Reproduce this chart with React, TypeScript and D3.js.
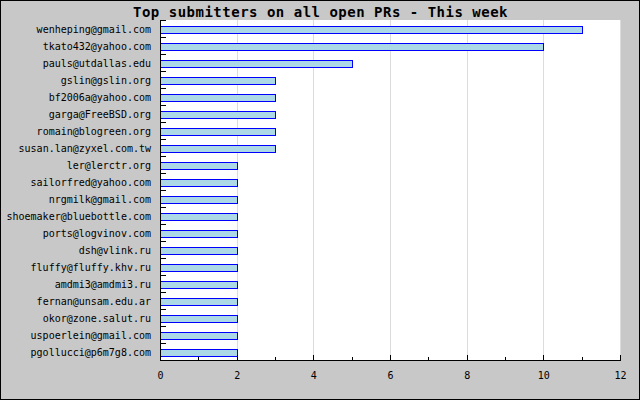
import React from "react";
import * as d3 from "d3";

const submitters: string[] = [
  "wenheping@gmail.com",
  "tkato432@yahoo.com",
  "pauls@utdallas.edu",
  "gslin@gslin.org",
  "bf2006a@yahoo.com",
  "garga@FreeBSD.org",
  "romain@blogreen.org",
  "susan.lan@zyxel.com.tw",
  "ler@lerctr.org",
  "sailorfred@yahoo.com",
  "nrgmilk@gmail.com",
  "shoemaker@bluebottle.com",
  "ports@logvinov.com",
  "dsh@vlink.ru",
  "fluffy@fluffy.khv.ru",
  "amdmi3@amdmi3.ru",
  "fernan@unsam.edu.ar",
  "okor@zone.salut.ru",
  "uspoerlein@gmail.com",
  "pgollucci@p6m7g8.com",
];
const prCounts: number[] = [11, 10, 5, 3, 3, 3, 3, 3, 2, 2, 2, 2, 2, 2, 2, 2, 2, 2, 2, 2];
const majorTicks: number[] = [0, 2, 4, 6, 8, 10, 12];
const minorTicks: number[] = [1, 3, 5, 7, 9, 11];
const title = "Top submitters on all open PRs - This week";

const W = 640;
const H = 400;
const left = 160;
const right = 620;
const top = 20;
const bottom = 360;
const mono = "'DejaVu Sans Mono', 'Liberation Mono', monospace";

export default function App() {
  const x = d3.scaleLinear().domain([0, 12]).range([left, right]);
  const y = d3.scaleBand<string>().domain(submitters).range([top, bottom]).padding(0);
  const step = y.step();
  const barH = 7;
  const barOff = 6;
  const boundaries = d3.range(submitters.length + 1).map((i) => top + i * step);
  const px = (v: number) => Math.round(x(v)) + 0.5;

  return (
    <svg
      width={W}
      height={H}
      style={{ position: "absolute", left: 0, top: 0, display: "block" }}
    >
      <rect x={0} y={0} width={W} height={H} fill="#c8c8c8" />
      <rect x={0.5} y={0.5} width={W - 1} height={H - 1} fill="none" stroke="#000" />
      <rect x={left} y={top} width={right - left} height={bottom - top} fill="#fff" />
      {majorTicks.slice(1).map((t) => (
        <line key={"g" + t} x1={px(t)} x2={px(t)} y1={top} y2={bottom} stroke="#dcdcdc" />
      ))}
      {submitters.map((s, i) => (
        <rect
          key={"b" + s}
          x={left + 0.5}
          y={Math.round((y(s) as number) + barOff) + 0.5}
          width={Math.round(x(prCounts[i])) - left}
          height={barH}
          fill="#add8e6"
          stroke="#0000ff"
        />
      ))}
      {/* y axis */}
      <line x1={left + 0.5} x2={left + 0.5} y1={top} y2={bottom + 1} stroke="#000" />
      {boundaries.map((b, i) => (
        <line
          key={"yt" + i}
          x1={left}
          x2={left + 6}
          y1={Math.round(b) + 0.5}
          y2={Math.round(b) + 0.5}
          stroke="#000"
        />
      ))}
      {submitters.map((s) => (
        <text
          key={"l" + s}
          x={151}
          y={Math.round((y(s) as number) + 13)}
          textAnchor="end"
          fontFamily={mono}
          fontSize={10}
          fill="#000"
        >
          {s}
        </text>
      ))}
      {/* x axis */}
      <line x1={left} x2={right + 1} y1={bottom + 0.5} y2={bottom + 0.5} stroke="#000" />
      {majorTicks.map((t) => (
        <line key={"xt" + t} x1={px(t)} x2={px(t)} y1={bottom - 5} y2={bottom} stroke="#000" />
      ))}
      {minorTicks.map((t) => (
        <line key={"xm" + t} x1={px(t)} x2={px(t)} y1={bottom - 3} y2={bottom} stroke="#000" />
      ))}
      {majorTicks.map((t) => (
        <text
          key={"xl" + t}
          x={x(t) + 0.5}
          y={379}
          textAnchor="middle"
          fontFamily={mono}
          fontSize={10}
          fill="#000"
        >
          {t}
        </text>
      ))}
      <text
        x={320.5}
        y={17}
        textAnchor="middle"
        fontFamily={mono}
        fontWeight="bold"
        fontSize={14}
        letterSpacing={0.5}
        fill="#000"
      >
        {title}
      </text>
    </svg>
  );
}
